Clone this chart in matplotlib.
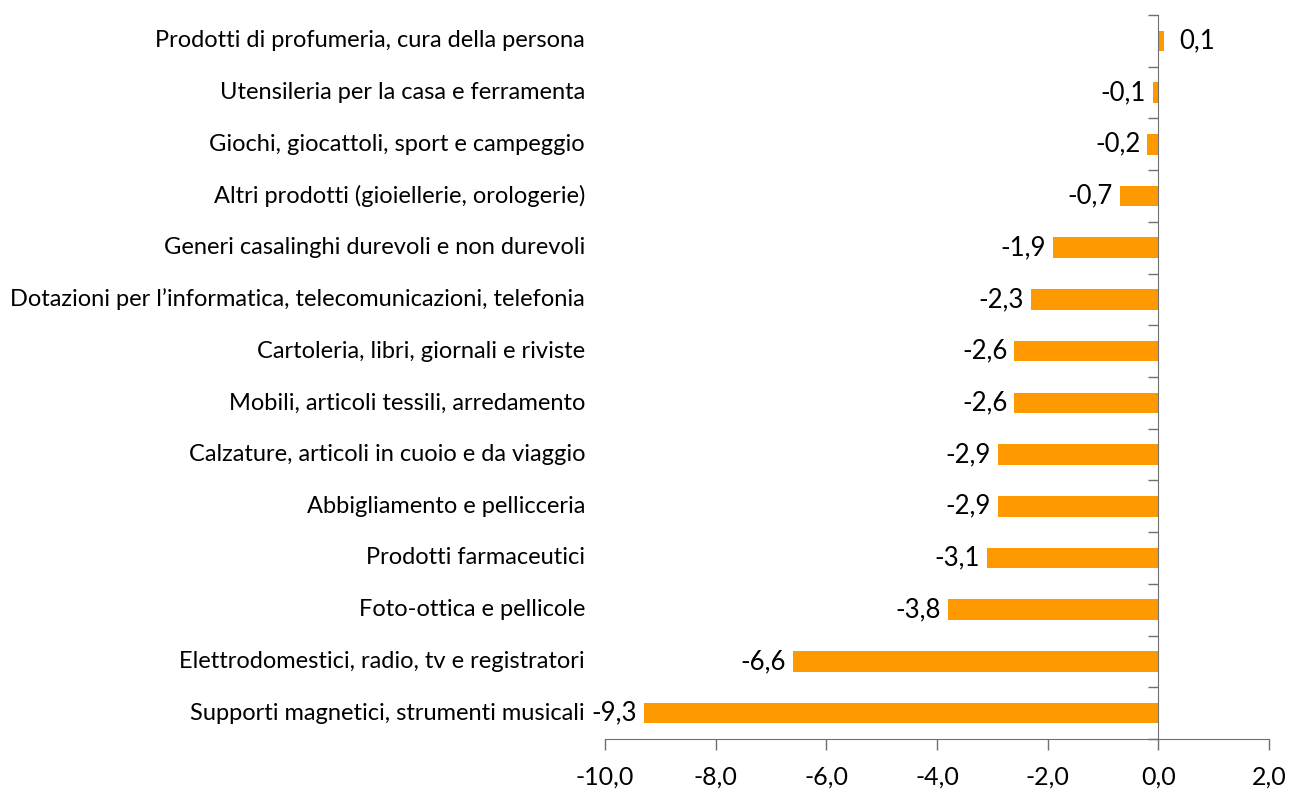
import matplotlib
matplotlib.use("Agg")
import matplotlib.pyplot as plt
from matplotlib.ticker import FixedLocator, FuncFormatter
import matplotlib.transforms as mtransforms

categories = [
    "Prodotti di profumeria, cura della persona",
    "Utensileria per la casa e ferramenta",
    "Giochi, giocattoli, sport e campeggio",
    "Altri prodotti (gioiellerie, orologerie)",
    "Generi casalinghi durevoli e non durevoli",
    "Dotazioni per l\u2019informatica, telecomunicazioni, telefonia",
    "Cartoleria, libri, giornali e riviste",
    "Mobili, articoli tessili, arredamento",
    "Calzature, articoli in cuoio e da viaggio",
    "Abbigliamento e pellicceria",
    "Prodotti farmaceutici",
    "Foto-ottica e pellicole",
    "Elettrodomestici, radio, tv e registratori",
    "Supporti magnetici, strumenti musicali",
]
values = [0.1, -0.1, -0.2, -0.7, -1.9, -2.3, -2.6, -2.6, -2.9, -2.9, -3.1, -3.8, -6.6, -9.3]
xticks = [-10, -8, -6, -4, -2, 0, 2]

plt.rcParams['font.family'] = ['Lato', 'DejaVu Sans']
fig = plt.figure(figsize=(12.91, 7.97), dpi=100)
ax = fig.add_axes([605/1291, 1-739/797, (1269-605)/1291, (739-15)/797])

n = len(categories)
ypos = list(range(n))
ax.barh(ypos, values, height=0.4, color='#FF9900', zorder=2)
ax.set_xlim(-10, 2)
ax.set_ylim(n - 0.5, -0.5)

axis_col = '#6f6f6f'
for s in ['top', 'right']:
    ax.spines[s].set_visible(False)
ax.spines['left'].set_position(('data', 0))
ax.spines['left'].set_color(axis_col)
ax.spines['bottom'].set_color(axis_col)
ax.spines['left'].set_zorder(3)

ax.yaxis.set_major_locator(FixedLocator([]))
ax.yaxis.set_minor_locator(FixedLocator([i - 0.5 for i in range(n + 1)]))
ax.tick_params(axis='y', which='minor', direction='out', length=7, color=axis_col, width=1)
ax.tick_params(axis='y', which='major', length=0, labelleft=False)

ax.set_xticks(xticks)
ax.xaxis.set_major_formatter(FuncFormatter(lambda v, p: f"{v:.1f}".replace('.', ',')))
ax.tick_params(axis='x', direction='out', length=8, color=axis_col, width=1,
               labelsize=18, pad=11)

trans = mtransforms.blended_transform_factory(ax.transAxes, ax.transData)
for y, cat in zip(ypos, categories):
    ax.text(-0.03, y, cat, transform=trans, ha='right', va='center', fontsize=17)

for y, v in zip(ypos, values):
    lab = f"{v:.1f}".replace('.', ',')
    if v >= 0:
        ax.annotate(lab, (v, y), xytext=(11, 0), textcoords='offset points',
                    ha='left', va='center', fontsize=18.5)
    else:
        ax.annotate(lab, (v, y), xytext=(-5, 0), textcoords='offset points',
                    ha='right', va='center', fontsize=18.5)

fig.savefig('out.png', dpi=100)
